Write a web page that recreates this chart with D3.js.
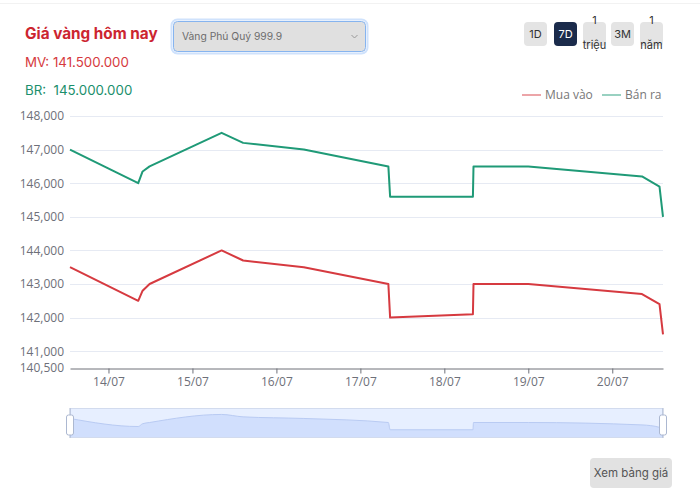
<!DOCTYPE html>
<html><head><meta charset="utf-8">
<script src="https://cdn.jsdelivr.net/npm/d3@7"></script>
<style>
html,body{margin:0;padding:0;background:#fff;}
svg{display:block;font-family:"Open Sans","Noto Sans",sans-serif;}
</style></head>
<body><svg id="c" width="700" height="494"></svg>
<script>
// ---- data ----
const times = ["2025-07-13T13:00","2025-07-14T08:30","2025-07-14T09:45","2025-07-14T11:45",
  "2025-07-15T08:20","2025-07-15T14:30","2025-07-16T07:50","2025-07-17T08:00","2025-07-17T08:30",
  "2025-07-18T08:10","2025-07-18T08:20","2025-07-19T00:00","2025-07-20T08:30","2025-07-20T13:30","2025-07-20T14:30"];
const banRa  = [147000,146000,146350,146500,147500,147200,147000,146500,145600,145600,146500,146500,146200,145900,145000];
const muaVao = [143500,142500,142800,143000,144000,143700,143500,143000,142000,142100,143000,143000,142700,142400,141500];
const yTicks = [148000,147000,146000,145000,144000,143000,142000,141000,140500];
const seriesNames = ["Mua vào","Bán ra"];
const rangeButtons = [["1D"],["7D"],["1","triệu"],["3M"],["1","năm"]];
const activeButton = "7D";
const selectLabel = "Vàng Phú Quý 999.9";
const title = "Giá vàng hôm nay";
const mvText = "MV: 141.500.000";
const brText = "BR:  145.000.000";

const RED = "#d63a40", GREEN = "#1f9a77";
const parse = d3.timeParse("%Y-%m-%dT%H:%M");
const T = times.map(parse);

const svg = d3.select("#c");
// faint card top edge
svg.append("line").attr("x1",0).attr("x2",700).attr("y1",3.5).attr("y2",3.5).attr("stroke","#f2f2f2");

// header
svg.append("text").attr("x",25).attr("y",39).attr("fill","#cc2530").attr("font-size",15.3).attr("font-weight",700)
  .attr("font-family","Inter,'Open Sans',sans-serif").text(title);
svg.append("text").attr("x",25).attr("y",67).attr("fill",RED).attr("font-size",13.3).attr("font-family","Inter,sans-serif").text(mvText);
svg.append("text").attr("x",25).attr("y",95).attr("fill","#1b8f6c").attr("font-size",13.3).attr("font-family","Inter,sans-serif").attr("xml:space","preserve").text(brText);

// select
svg.append("rect").attr("x",171.5).attr("y",19.5).attr("width",196).attr("height",34).attr("rx",6)
  .attr("fill","none").attr("stroke","#cfe2fc").attr("stroke-width",2);
svg.append("rect").attr("x",173.5).attr("y",21.5).attr("width",192).attr("height",30).attr("rx",4)
  .attr("fill","#e0e0e0").attr("stroke","#86b4ef");
svg.append("text").attr("x",182).attr("y",40).attr("fill","#6d6d6d").attr("font-size",10.3).attr("font-family","Inter,sans-serif").text(selectLabel);
svg.append("path").attr("d","M351.5,35 l3,3 l3,-3").attr("fill","none").attr("stroke","#999").attr("stroke-width",1);

// range buttons
const bx = [524,554,583,611,640];
rangeButtons.forEach((b,i)=>{
  const active = b[0]===activeButton;
  svg.append("rect").attr("x",bx[i]).attr("y",22).attr("width",23).attr("height",24).attr("rx",4)
    .attr("fill",active?"#1b2b4b":"#e4e4e4");
  const cx = bx[i]+11.5;
  if(b.length===1){
    svg.append("text").attr("x",cx).attr("y",38).attr("text-anchor","middle").attr("font-size",11)
      .attr("font-family","Inter,sans-serif").attr("fill",active?"#fff":"#333").text(b[0]);
  } else {
    svg.append("text").attr("x",cx).attr("y",24).attr("text-anchor","middle").attr("font-size",11)
      .attr("font-family","Inter,sans-serif").attr("fill","#333").text(b[0]);
    svg.append("text").attr("x",cx).attr("y",49).attr("text-anchor","middle").attr("font-size",11)
      .attr("font-family","Inter,sans-serif").attr("fill","#333").text(b[1]);
  }
});

// legend
const legendX = [522,602];
[RED,GREEN].forEach((c,i)=>{
  svg.append("line").attr("x1",legendX[i]).attr("x2",legendX[i]+19).attr("y1",95).attr("y2",95).attr("stroke",c).attr("stroke-width",1.5).attr("opacity",0.6);
  svg.append("text").attr("x",legendX[i]+23).attr("y",99).attr("font-size",12).attr("fill","#777").text(seriesNames[i]);
});

// scales
const x = d3.scaleTime().domain(d3.extent(T)).range([70,663]);
const y = d3.scaleLinear().domain([140500,148000]).range([368,116]);

// grid
svg.append("g").selectAll("line").data(yTicks.filter(v=>v!==140500)).join("line")
  .attr("x1",70).attr("x2",663).attr("y1",d=>Math.round(y(d))+0.5).attr("y2",d=>Math.round(y(d))+0.5)
  .attr("stroke","#e6eaf3");

// y axis labels
const yAxis = d3.axisLeft(y).tickValues(yTicks).tickSize(0).tickPadding(6).tickFormat(d3.format(","));
const gy = svg.append("g").attr("transform","translate(70,0)").call(yAxis);
gy.select(".domain").remove();
gy.selectAll("text").attr("fill","#6e7079").attr("font-size",12).attr("font-family","'Open Sans',sans-serif");

// x axis
const xAxis = d3.axisBottom(x).ticks(d3.timeDay.every(1)).tickFormat(d3.timeFormat("%d/%m")).tickSize(5).tickPadding(4).tickSizeOuter(0);
const gx = svg.append("g").attr("transform","translate(0,368.5)").call(xAxis);
gx.select(".domain").attr("stroke","#6e7079");
gx.selectAll(".tick line").attr("stroke","#6e7079");
gx.selectAll("text").attr("fill","#6e7079").attr("font-size",12).attr("font-family","'Open Sans',sans-serif");

// lines
const line = d3.line().x((d,i)=>x(T[i])).y(d=>y(d));
svg.append("path").datum(banRa).attr("d",line).attr("fill","none").attr("stroke",GREEN).attr("stroke-width",2).attr("stroke-linejoin","round");
svg.append("path").datum(muaVao).attr("d",line).attr("fill","none").attr("stroke",RED).attr("stroke-width",2).attr("stroke-linejoin","round");

// data zoom slider
const zTop = 408, zH = 30;
const ys = d3.scaleLinear().domain([144700,148300]).range([zTop+zH-1,zTop]);
svg.append("rect").attr("x",70.5).attr("y",zTop+0.5).attr("width",592).attr("height",zH-1).attr("fill","rgba(135,175,255,0.2)").attr("stroke","#d2dbee");
const area = d3.area().x((d,i)=>x(T[i])).y0(zTop+zH-1).y1(d=>ys(d)).curve(d3.curveMonotoneX);
const zline = d3.line().x((d,i)=>x(T[i])).y(d=>ys(d)).curve(d3.curveMonotoneX);
svg.append("path").datum(banRa).attr("d",area).attr("fill","#8fb0f7").attr("opacity",0.25);
svg.append("path").datum(banRa).attr("d",zline).attr("fill","none").attr("stroke","#b9cbf3").attr("stroke-width",1);
[70,663].forEach(hx=>{
  svg.append("line").attr("x1",hx).attr("x2",hx).attr("y1",zTop).attr("y2",zTop+zH).attr("stroke","#acb8d1");
  svg.append("rect").attr("x",hx-3.5).attr("y",zTop+7).attr("width",7).attr("height",20).attr("rx",2)
    .attr("fill","#fff").attr("stroke","#acb8d1");
});

// bottom button
svg.append("rect").attr("x",590).attr("y",458).attr("width",82).attr("height",30).attr("rx",4).attr("fill","#e2e2e2");
svg.append("text").attr("x",631).attr("y",477).attr("text-anchor","middle").attr("font-size",11.5)
  .attr("font-family","Inter,sans-serif").attr("fill","#555").text("Xem bảng giá");
</script></body></html>
